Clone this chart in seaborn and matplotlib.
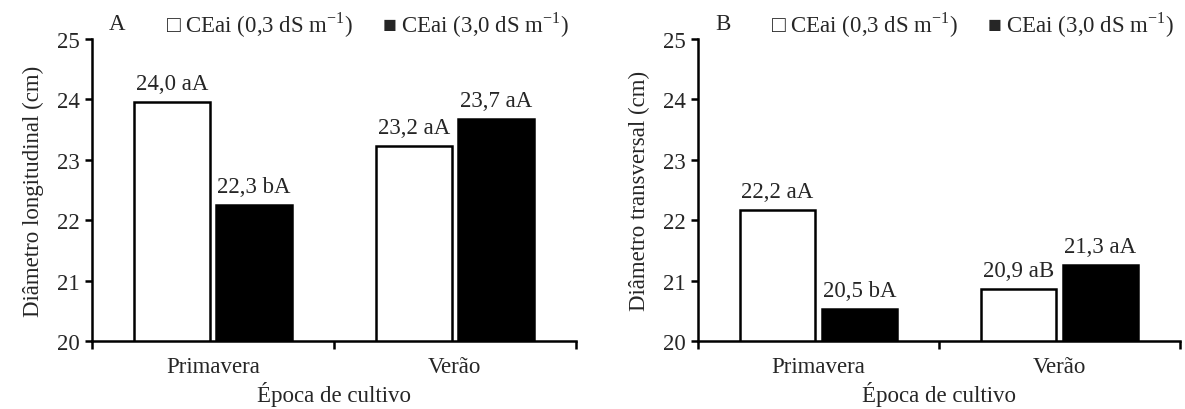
import matplotlib
matplotlib.use('Agg')
import matplotlib.pyplot as plt
import seaborn as sns
import pandas as pd

# dados
epocas = ['Primavera', 'Verão']
tratamentos = ['0,3', '3,0']
long_03 = [23.95, 23.23]
long_30 = [22.25, 23.67]
trans_03 = [22.17, 20.86]
trans_30 = [20.53, 21.26]
rot_long_03 = ['24,0 aA', '23,2 aA']
rot_long_30 = ['22,3 bA', '23,7 aA']
rot_trans_03 = ['22,2 aA', '20,9 aB']
rot_trans_30 = ['20,5 bA', '21,3 aA']
y_ticks = [20, 21, 22, 23, 24, 25]

sns.set_style('white')
plt.rcParams['font.family'] = ['Liberation Serif', 'DejaVu Serif']
plt.rcParams['mathtext.fontset'] = 'custom'
plt.rcParams['mathtext.rm'] = 'Liberation Serif'

fs = 16.5

fig = plt.figure(figsize=(11.85, 4.1), dpi=100)
ax_a = fig.add_axes([0.0776, 0.1659, 0.4084, 0.7366])
ax_b = fig.add_axes([0.589, 0.1659, 0.4068, 0.7366])


def painel(ax, v03, v30, rot03, rot30, ylabel, letra):
    df = pd.DataFrame({
        'epoca': epocas * 2,
        'trat': [tratamentos[0]] * 2 + [tratamentos[1]] * 2,
        'valor': v03 + v30,
    })
    sns.barplot(data=df, x='epoca', y='valor', hue='trat', order=epocas,
                hue_order=tratamentos, palette=['white', 'black'],
                width=0.68, gap=0.08, edgecolor='black', linewidth=1.8,
                legend=False, ax=ax)
    for cont, rots in zip(ax.containers, [rot03, rot30]):
        ax.bar_label(cont, labels=rots, padding=6, fontsize=fs)
    ax.set_ylim(20, 25)
    ax.set_yticks(y_ticks)
    ax.set_xlim(-0.5, 1.5)
    ax.set_xticks([-0.5, 0.5, 1.5], minor=True)
    ax.tick_params(axis='x', which='major', length=0, labelsize=fs, pad=11)
    ax.tick_params(axis='x', which='minor', length=6, width=1.8, direction='out',
                   bottom=True, color='black')
    ax.tick_params(axis='y', length=5, width=1.8, direction='out', left=True,
                   labelsize=fs, color='black', pad=4)
    for s in ['top', 'right']:
        ax.spines[s].set_visible(False)
    for s in ['left', 'bottom']:
        ax.spines[s].set_color('black')
        ax.spines[s].set_linewidth(1.8)
    ax.set_xlabel('Época de cultivo', fontsize=fs, labelpad=3)
    ax.set_ylabel(ylabel, fontsize=fs, labelpad=9)
    ax.text(0.035, 1.05, letra, transform=ax.transAxes, fontsize=fs,
            ha='left', va='center')
    ax.text(0.152, 1.05, '□ CEai (0,3 dS m$^{-1}$)', transform=ax.transAxes,
            fontsize=fs, ha='left', va='center')
    ax.text(0.6, 1.05, '■ CEai (3,0 dS m$^{-1}$)', transform=ax.transAxes,
            fontsize=fs, ha='left', va='center')


painel(ax_a, long_03, long_30, rot_long_03, rot_long_30,
       'Diâmetro longitudinal (cm)', 'A')
painel(ax_b, trans_03, trans_30, rot_trans_03, rot_trans_30,
       'Diâmetro transversal (cm)', 'B')

fig.savefig('out.png', dpi=100)
